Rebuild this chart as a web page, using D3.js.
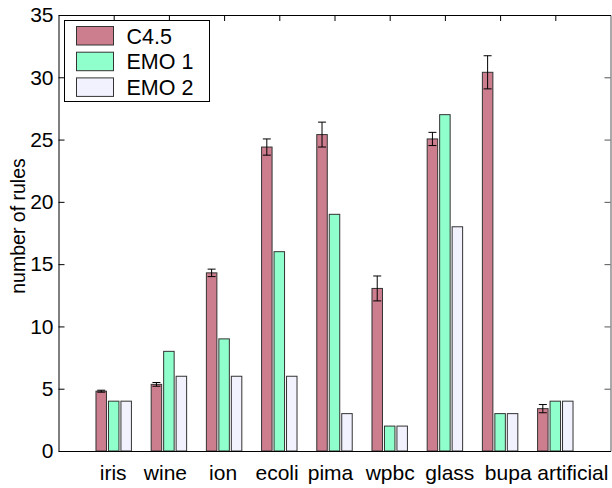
<!DOCTYPE html>
<html>
<head>
<meta charset="utf-8">
<script src="https://cdn.jsdelivr.net/npm/d3@7"></script>
<style>
  body { margin: 0; background: white; }
  text { font-family: "Liberation Sans", Arial, Helvetica, sans-serif; }
</style>
</head>
<body>
<script>
// Data
const datasets = ["iris", "wine", "ion", "ecoli", "pima", "wpbc", "glass", "bupa", "artificial"];
const seriesNames = ["C4.5", "EMO 1", "EMO 2"];
const c45 = [4.8, 5.35, 14.3, 24.4, 25.4, 13.05, 25.05, 30.4, 3.4];
const c45Err = [0.08, 0.15, 0.3, 0.65, 1.0, 1.0, 0.53, 1.33, 0.33];
const emo1 = [4, 8, 9, 16, 19, 2, 27, 3, 4];
const emo2 = [4, 6, 6, 6, 3, 2, 18, 3, 4];
const yTicks = [0, 5, 10, 15, 20, 25, 30, 35];

const colors = ["#cc7d8e", "#8fffcc", "#f2f2ff"];

// the original labels are not quite centred on their ticks (px nudges)
const labelNudge = [-1, -4, -1.5, -2.7, -4.5, 0, 4.4, 7.6, 17];

let width = 612,
    height = 488;

let margin = { top: 15, right: 1, bottom: 37, left: 58 };

let svg = d3.select("body")
    .append("svg")
    .attr("width", width)
    .attr("height", height);

// x is category index 1..9 over a 0..10 range
let xscale = d3.scaleLinear()
    .domain([0, datasets.length + 1])
    .range([margin.left + 0.5, width - margin.right - 0.5]);

let yscale = d3.scaleLinear()
    .domain([0, 35])
    .range([height - margin.bottom, margin.top]);

const series = [c45, emo1, emo2];
const offset = 0.226;   // group offset in category units
const barW = 0.19;

// bars
series.forEach((vals, s) => {
    svg.append("g")
        .selectAll("rect")
        .data(vals)
        .enter().append("rect")
        .attr("x", (d, i) => xscale(i + 1 + (s - 1) * offset - barW / 2))
        .attr("width", xscale(barW) - xscale(0))
        .attr("y", d => yscale(d))
        .attr("height", d => yscale(0) - yscale(d))
        .attr("fill", colors[s])
        .attr("stroke", "#333")
        .attr("stroke-width", 1);
});

// error bars on C4.5
let err = svg.append("g").attr("stroke", "black").attr("stroke-width", 1);
c45.forEach((v, i) => {
    let cx = xscale(i + 1 - offset);
    let top = yscale(v + c45Err[i]), bot = yscale(v - c45Err[i]);
    err.append("line").attr("x1", cx).attr("x2", cx).attr("y1", top).attr("y2", bot);
    err.append("line").attr("x1", cx - 4).attr("x2", cx + 4).attr("y1", top).attr("y2", top);
    err.append("line").attr("x1", cx - 4).attr("x2", cx + 4).attr("y1", bot).attr("y2", bot);
});

// axes box
let x0 = xscale.range()[0], x1 = xscale.range()[1];
let y0 = yscale(0), y1 = yscale(35);

svg.append("g")
    .attr("transform", `translate(${x0},0)`)
    .call(d3.axisLeft(yscale).tickValues(yTicks).tickSizeInner(-6).tickSizeOuter(0).tickPadding(5))
    .call(g => g.selectAll("text").style("font-size", "21px").attr("fill", "black"))
    .call(g => g.selectAll("path, line").attr("stroke", "black"));

svg.append("g")
    .attr("transform", `translate(${x1},0)`)
    .call(d3.axisRight(yscale).tickValues(yTicks).tickSizeInner(-6).tickSizeOuter(0).tickFormat(""))
    .call(g => g.selectAll("path, line").attr("stroke", "#555"));

svg.append("g")
    .attr("transform", `translate(0,${y0})`)
    .call(d3.axisBottom(xscale).tickValues(d3.range(1, datasets.length + 1))
        .tickFormat(i => datasets[i - 1]).tickSizeInner(0).tickSizeOuter(0).tickPadding(14))
    .call(g => g.selectAll("text")
        .style("font-size", "21px")
        .attr("fill", "black")
        .attr("dx", (d, i) => labelNudge[i]))
    .call(g => g.selectAll("path, line").attr("stroke", "black"));

svg.append("g")
    .attr("transform", `translate(0,${y1})`)
    .call(d3.axisTop(xscale).tickValues(d3.range(1, datasets.length + 1))
        .tickSizeInner(-6).tickSizeOuter(0).tickFormat(""))
    .call(g => g.selectAll("path, line").attr("stroke", "black"));

// y-axis label
svg.append("text")
    .attr("transform", "rotate(-90)")
    .attr("x", -226)
    .attr("y", 25)
    .attr("text-anchor", "middle")
    .style("font-size", "19.5px")
    .text("number of rules");

// legend
let legend = svg.append("g").attr("transform", "translate(64.5,20.5)");
legend.append("rect")
    .attr("width", 145)
    .attr("height", 81)
    .attr("fill", "white")
    .attr("stroke", "black");

seriesNames.forEach((name, i) => {
    legend.append("rect")
        .attr("x", 12)
        .attr("y", 6 + i * 25.7)
        .attr("width", 37)
        .attr("height", 18.5)
        .attr("fill", colors[i])
        .attr("stroke", "#333");
    legend.append("text")
        .attr("x", 62)
        .attr("y", 15.5 + i * 25.7)
        .attr("dy", "0.36em")
        .style("font-size", "21.5px")
        .text(name);
});
</script>
</body>
</html>
